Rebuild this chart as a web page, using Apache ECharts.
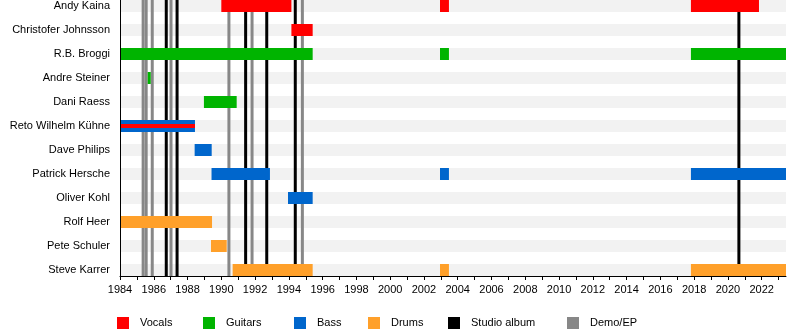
<!DOCTYPE html>
<html>
<head>
<meta charset="utf-8">
<script src="https://cdn.jsdelivr.net/npm/echarts@6/dist/echarts.min.js"></script>
<style>
  html, body { margin: 0; padding: 0; background: #ffffff; }
  #chart { width: 800px; height: 335px; }
</style>
</head>
<body>
<div id="chart"></div>
<script>
// Band members, top to bottom
const members = [
  'Andy Kaina', 'Christofer Johnsson', 'R.B. Broggi', 'Andre Steiner',
  'Dani Raess', 'Reto Wilhelm Kühne', 'Dave Philips', 'Patrick Hersche',
  'Oliver Kohl', 'Rolf Heer', 'Pete Schuler', 'Steve Karrer'
];

// Membership spans per role: [member, from, to] in decimal years
const vocals = [
  ['Andy Kaina', 1990.0, 1994.15],
  ['Andy Kaina', 2002.95, 2003.48],
  ['Andy Kaina', 2017.81, 2021.84],
  ['Christofer Johnsson', 1994.15, 1995.41]
];
const guitars = [
  ['R.B. Broggi', 1984.0, 1995.41],
  ['R.B. Broggi', 2002.95, 2003.48],
  ['R.B. Broggi', 2017.81, 2023.44],
  ['Andre Steiner', 1985.64, 1985.82],
  ['Dani Raess', 1988.97, 1990.91]
];
const bass = [
  ['Reto Wilhelm Kühne', 1984.0, 1988.44],
  ['Dave Philips', 1988.42, 1989.43],
  ['Patrick Hersche', 1989.42, 1992.88],
  ['Patrick Hersche', 2002.95, 2003.48],
  ['Patrick Hersche', 2017.81, 2023.44],
  ['Oliver Kohl', 1993.95, 1995.41]
];
const drums = [
  ['Rolf Heer', 1984.0, 1989.45],
  ['Pete Schuler', 1989.39, 1990.32],
  ['Steve Karrer', 1990.67, 1995.41],
  ['Steve Karrer', 2002.95, 2003.48],
  ['Steve Karrer', 2017.81, 2023.44]
];
// Second role held alongside the main one (drawn as an inner stripe)
const vocalsSecondary = [
  ['Reto Wilhelm Kühne', 1984.0, 1988.44]
];

// Release dates
const studioAlbums = [1986.74, 1987.38, 1991.44, 1992.69, 1994.38, 2020.65];
const demos = [1985.37, 1985.55, 1985.91, 1987.02, 1990.45, 1991.82, 1994.80];

// Time axis
const yearStart = 1984;
const yearEnd = 2023.44;
const yearTicks = [1984, 1985, 1986, 1987, 1988, 1989, 1990, 1991, 1992, 1993,
  1994, 1995, 1996, 1997, 1998, 1999, 2000, 2001, 2002, 2003, 2004, 2005,
  2006, 2007, 2008, 2009, 2010, 2011, 2012, 2013, 2014, 2015, 2016, 2017,
  2018, 2019, 2020, 2021, 2022, 2023];
const yearLabels = [1984, 1986, 1988, 1990, 1992, 1994, 1996, 1998, 2000,
  2002, 2004, 2006, 2008, 2010, 2012, 2014, 2016, 2018, 2020, 2022];

const FONT = 'Liberation Sans, Arial, sans-serif';
const COLORS = {
  vocals: '#ff0000', guitars: '#00b400', bass: '#0066cc', drums: '#ffa02a',
  album: '#000000', demo: '#878787', stripe: '#f2f2f2'
};

const rowIndex = name => members.indexOf(name);
const toRows = spans => spans.map(s => [rowIndex(s[0]), s[1], s[2]]);

function spanRenderer(thickness) {
  return function (params, api) {
    const row = api.value(0);
    const a = api.coord([api.value(1), row]);
    const b = api.coord([api.value(2), row]);
    const rect = echarts.graphic.clipRectByRect({
      x: a[0], y: a[1] - thickness / 2, width: b[0] - a[0], height: thickness
    }, params.coordSys);
    return rect && { type: 'rect', shape: rect, style: api.style() };
  };
}

function stripeRenderer(params, api) {
  const cs = params.coordSys;
  const y = api.coord([yearStart, api.value(0)])[1];
  return {
    type: 'rect',
    shape: { x: cs.x, y: y - 6, width: cs.width, height: 12 },
    style: { fill: COLORS.stripe }
  };
}

function releaseRenderer(params, api) {
  const cs = params.coordSys;
  const x = api.coord([api.value(0), 0])[0];
  return {
    type: 'line',
    shape: { x1: x, y1: cs.y, x2: x, y2: cs.y + cs.height },
    style: { stroke: api.visual('color'), lineWidth: 3 }
  };
}

function spanSeries(name, color, data, thickness, z) {
  return {
    name: name, type: 'custom', renderItem: spanRenderer(thickness),
    itemStyle: { color: color }, data: toRows(data), z: z,
    encode: { x: [1, 2], y: 0 }, silent: true
  };
}

function releaseSeries(name, color, data, z) {
  return {
    name: name, type: 'custom', renderItem: releaseRenderer,
    itemStyle: { color: color }, data: data.map(v => [v]), z: z,
    encode: { x: 0 }, silent: true
  };
}

const legendItems = [
  ['Vocals', 117], ['Guitars', 203], ['Bass', 294],
  ['Drums', 368], ['Studio album', 448], ['Demo/EP', 567]
];

const chart = echarts.init(document.getElementById('chart'), null, { renderer: 'canvas' });
chart.setOption({
  animation: false,
  backgroundColor: '#ffffff',
  textStyle: { fontFamily: FONT },
  grid: { left: 120, right: 14, top: 0, bottom: 59, containLabel: false },
  legend: legendItems.map(([name, left]) => ({
    data: [name], left: left, top: 317, padding: 0,
    icon: 'rect', itemWidth: 12, itemHeight: 12,
    selectedMode: false,
    textStyle: { fontFamily: FONT, fontSize: 11, color: '#000', padding: [0, 0, 0, 6] }
  })),
  xAxis: {
    type: 'value', min: yearStart, max: yearEnd, z: 10,
    axisLine: { show: true, onZero: false, lineStyle: { color: '#000', width: 1 } },
    axisTick: { show: true, customValues: yearTicks, length: 4, lineStyle: { color: '#000' } },
    axisLabel: {
      customValues: yearLabels, margin: 8, color: '#000',
      fontFamily: FONT, fontSize: 11, formatter: v => String(v)
    },
    splitLine: { show: false }
  },
  yAxis: {
    type: 'value', inverse: true, min: -0.25, max: 11.25, z: 10,
    axisLine: { show: true, onZero: false, lineStyle: { color: '#000', width: 1 } },
    axisTick: { show: false },
    axisLabel: {
      customValues: members.map((_, i) => i), margin: 10, color: '#000',
      fontFamily: FONT, fontSize: 11, formatter: v => members[v]
    },
    splitLine: { show: false }
  },
  series: [
    {
      name: 'rows', type: 'custom', renderItem: stripeRenderer,
      data: members.map((_, i) => [i]), z: 1, silent: true, encode: { y: 0 }
    },
    releaseSeries('Demo/EP', COLORS.demo, demos, 2),
    releaseSeries('Studio album', COLORS.album, studioAlbums, 3),
    spanSeries('Vocals', COLORS.vocals, vocals, 12, 4),
    spanSeries('Guitars', COLORS.guitars, guitars, 12, 4),
    spanSeries('Bass', COLORS.bass, bass, 12, 4),
    spanSeries('Drums', COLORS.drums, drums, 12, 4),
    spanSeries('Vocals', COLORS.vocals, vocalsSecondary, 4, 5)
  ]
});
</script>
</body>
</html>
